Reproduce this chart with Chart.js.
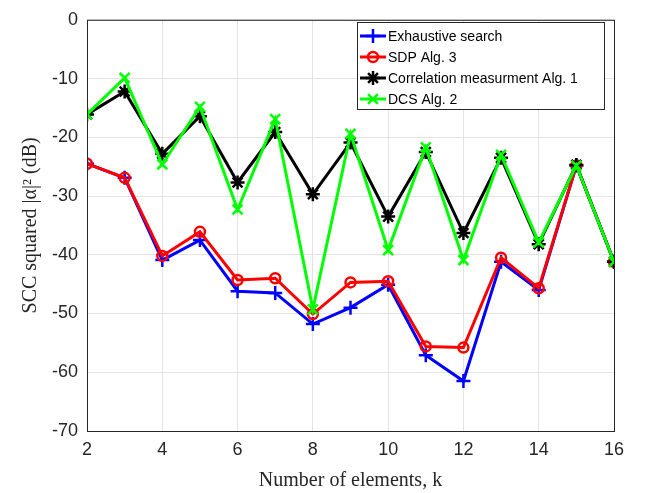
<!DOCTYPE html>
<html>
<head>
<meta charset="utf-8">
<script src="https://cdn.jsdelivr.net/npm/chart.js@4"></script>
<style>
  html, body { margin: 0; padding: 0; background: #fff; }
  #wrap { width: 646px; height: 493px; }
</style>
</head>
<body>
<div id="wrap"><canvas id="sccChart" width="646" height="493"></canvas></div>
<script>
// number of elements k
const elementos = [2, 3, 4, 5, 6, 7, 8, 9, 10, 11, 12, 13, 14, 15, 16];
const exaustiva = [-24.5, -26.9, -40.9, -37.5, -46.2, -46.5, -51.8, -49.0, -45.1, -57.1, -61.5, -41.2, -46.0, -24.8, -41.2];
const sdp = [-24.5, -26.9, -40.2, -36.1, -44.3, -44.0, -50.1, -44.7, -44.5, -55.6, -55.8, -40.5, -45.7, -24.8, -41.2];
const correlacao = [-16.1, -12.2, -22.8, -16.4, -27.7, -19.1, -29.7, -20.9, -33.5, -22.5, -36.3, -23.5, -38.2, -24.7, -41.2];
const dcs = [-16.1, -9.9, -24.6, -14.8, -32.3, -16.9, -49.3, -19.4, -39.2, -21.7, -40.9, -23.0, -37.9, -24.8, -41.2];
const xTicks = [2, 4, 6, 8, 10, 12, 14, 16];
const yTicks = [0, -10, -20, -30, -40, -50, -60, -70];

function pares(vals) {
    return elementos.map((k, i) => ({ x: k, y: vals[i] }));
}

function serie(label, vals, cor, estilo, raio, ordem) {
    return {
        label: label,
        data: pares(vals),
        order: ordem,
        borderColor: cor,
        backgroundColor: 'rgba(0,0,0,0)',
        borderWidth: 3,
        pointStyle: estilo,
        pointRadius: raio,
        pointBorderColor: cor,
        pointBorderWidth: 2.5,
        pointBackgroundColor: 'rgba(0,0,0,0)',
        tension: 0
    };
}

// MATLAB style box + legend
const moldura = {
    id: 'moldura',
    afterDraw(chart) {
        const c = chart.ctx;
        const a = chart.chartArea;
        c.save();
        c.strokeStyle = '#262626';
        c.lineWidth = 1;
        c.strokeRect(a.left + 0.5, a.top + 0.5, a.right - a.left, a.bottom - a.top);

        // legend
        const lx = 357, ly = 22, lw = 247, lh = 87;
        c.fillStyle = '#fff';
        c.fillRect(lx, ly, lw, lh);
        c.strokeStyle = '#262626';
        c.strokeRect(lx + 0.5, ly + 0.5, lw, lh);
        c.font = '14px "Liberation Sans", Arial, sans-serif';
        c.textBaseline = 'middle';
        chart.data.datasets.forEach((ds, i) => {
            const y = ly + 14 + i * 21;
            c.strokeStyle = ds.borderColor;
            c.lineWidth = 3;
            c.beginPath();
            c.moveTo(lx + 3, y);
            c.lineTo(lx + 29, y);
            c.stroke();
            c.lineWidth = 2.5;
            c.fillStyle = 'rgba(0,0,0,0)';
            Chart.helpers.drawPoint(c, {
                pointStyle: ds.pointStyle,
                radius: ds.pointRadius,
                rotation: 0,
                borderWidth: 2.5
            }, lx + 16, y);
            c.fillStyle = '#000';
            c.fillText(ds.label, lx + 31, y + 1);
        });
        c.restore();
    }
};

const ctx = document.getElementById('sccChart').getContext('2d');

const sccChart = new Chart(ctx, {
    type: 'line',
    data: {
        datasets: [
            serie('Exhaustive search', exaustiva, '#0000ff', 'cross', 7, 3),
            serie('SDP Alg. 3', sdp, '#ff0000', 'circle', 5, 2),
            serie('Correlation measurment Alg. 1', correlacao, '#000000', 'star', 7, 1),
            serie('DCS Alg. 2', dcs, '#00ff00', 'crossRot', 7, 0)
        ]
    },
    options: {
        responsive: false,
        animation: false,
        devicePixelRatio: 1,
        layout: {
            padding: { top: 12, right: 32, left: 0, bottom: 0 }
        },
        plugins: {
            legend: { display: false },
            tooltip: { enabled: false }
        },
        scales: {
            x: {
                type: 'linear',
                min: 2,
                max: 16,
                afterBuildTicks: (s) => { s.ticks = xTicks.map(v => ({ value: v })); },
                afterFit: (s) => { s.height = 62; },
                ticks: {
                    color: '#262626',
                    padding: 8,
                    font: { size: 18, family: '"Liberation Sans", Arial, sans-serif' },
                    maxRotation: 0
                },
                grid: {
                    color: '#e3e3e3',
                    drawTicks: false
                },
                border: { display: false },
                title: {
                    display: true,
                    text: 'Number of elements, k',
                    color: '#262626',
                    font: { size: 20, family: '"Liberation Serif", "Times New Roman", serif' },
                    padding: { top: 2, bottom: 0 }
                }
            },
            y: {
                type: 'linear',
                min: -70,
                max: 0,
                afterBuildTicks: (s) => { s.ticks = yTicks.map(v => ({ value: v })); },
                afterFit: (s) => { s.width = 87; },
                ticks: {
                    color: '#262626',
                    padding: 9,
                    font: { size: 18, family: '"Liberation Sans", Arial, sans-serif' }
                },
                grid: {
                    color: '#e3e3e3',
                    drawTicks: false
                },
                border: { display: false },
                title: {
                    display: true,
                    text: 'SCC squared |α|² (dB)',
                    color: '#262626',
                    font: { size: 20, family: '"Liberation Serif", "Times New Roman", serif' },
                    padding: { top: 19, bottom: 0 }
                }
            }
        }
    },
    plugins: [moldura]
});
</script>
</body>
</html>
